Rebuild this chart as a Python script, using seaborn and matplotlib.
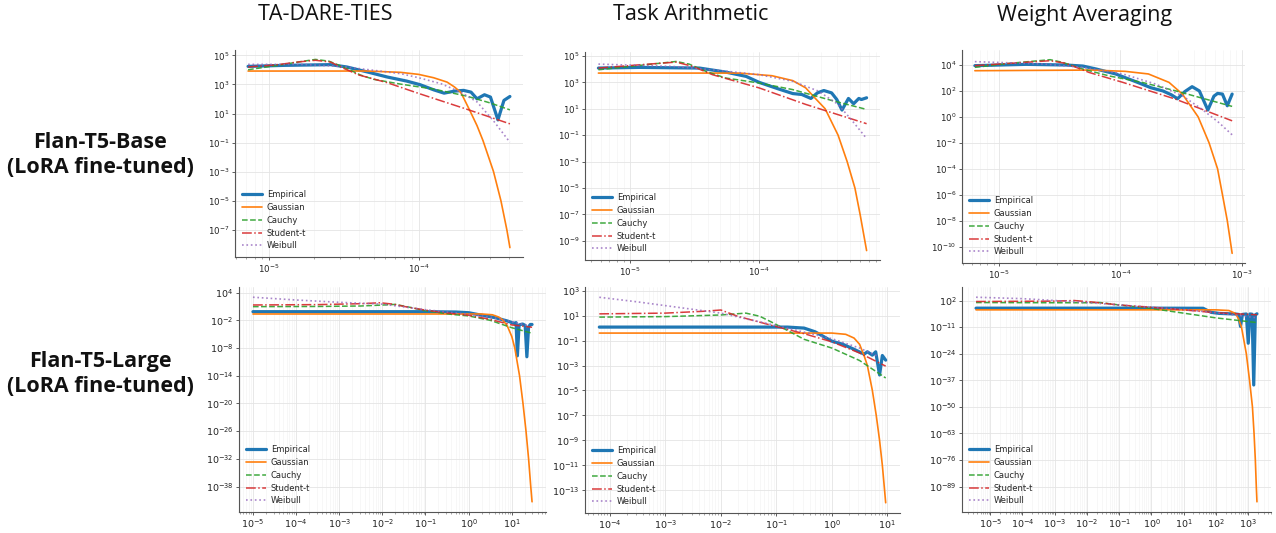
import numpy as np
import matplotlib
matplotlib.use("Agg")
import matplotlib.pyplot as plt
from matplotlib.ticker import FixedLocator, NullLocator, LogLocator
import seaborn as sns

# ---------------- data: (log10 x, log10 density) ----------------
COLUMN_TITLES = ["TA-DARE-TIES", "Task Arithmetic", "Weight Averaging"]
ROW_LABELS = ["Flan-T5-Base\n(LoRA fine-tuned)", "Flan-T5-Large\n(LoRA fine-tuned)"]
DIST_NAMES = ["Empirical", "Gaussian", "Cauchy", "Student-t", "Weibull"]

# Flan-T5-Base / TA-DARE-TIES
B_TADT_EMP = [(-5.14, 4.24), (-4.90, 4.31), (-4.59, 4.36), (-4.48, 4.20), (-4.34, 3.85), (-4.21, 3.51),
              (-4.08, 3.23), (-3.99, 2.98), (-3.90, 2.63), (-3.83, 2.40), (-3.76, 2.54), (-3.70, 2.59),
              (-3.65, 2.47), (-3.61, 2.01), (-3.56, 2.29), (-3.52, 2.13), (-3.47, 0.56), (-3.43, 1.90),
              (-3.39, 2.17)]
B_TADT_GAU = [(-5.14, 3.92), (-4.34, 3.92), (-4.12, 3.83), (-4.00, 3.69), (-3.90, 3.46), (-3.81, 3.16),
              (-3.76, 2.82), (-3.72, 2.47), (-3.70, 2.08), (-3.66, 1.25), (-3.61, 0.17), (-3.57, -0.86),
              (-3.50, -2.98), (-3.45, -5.00), (-3.41, -7.02), (-3.39, -8.22)]
B_TADT_CAU = [(-5.14, 4.01), (-4.95, 4.30), (-4.80, 4.55), (-4.69, 4.72), (-4.60, 4.60), (-4.48, 4.10),
              (-4.39, 3.65), (-4.30, 3.35), (-4.12, 3.02), (-3.90, 2.68), (-3.68, 2.20), (-3.52, 1.72),
              (-3.39, 1.25)]
B_TADT_STU = [(-5.14, 4.20), (-4.95, 4.35), (-4.80, 4.55), (-4.69, 4.66), (-4.59, 4.54), (-4.50, 4.10),
              (-4.40, 3.65), (-4.21, 3.12), (-4.00, 2.38), (-3.68, 1.30), (-3.39, 0.29)]
B_TADT_WEI = [(-5.14, 4.38), (-4.79, 4.38), (-4.52, 4.24), (-4.30, 3.97), (-4.12, 3.74), (-4.00, 3.46),
              (-3.85, 3.05), (-3.72, 2.47), (-3.61, 1.80), (-3.50, 0.50), (-3.39, -0.98)]

# Flan-T5-Base / Task Arithmetic
B_TA_EMP = [(-5.24, 4.08), (-4.92, 4.13), (-4.46, 4.08), (-4.26, 3.78), (-4.10, 3.45), (-4.00, 3.00),
            (-3.85, 2.50), (-3.74, 2.15), (-3.67, 2.08), (-3.60, 1.78), (-3.55, 2.20), (-3.50, 2.38),
            (-3.44, 2.20), (-3.40, 1.70), (-3.36, 0.90), (-3.31, 1.78), (-3.27, 1.38), (-3.23, 1.78),
            (-3.21, 1.70), (-3.17, 1.83)]
B_TA_GAU = [(-5.24, 3.70), (-4.15, 3.70), (-3.90, 3.50), (-3.74, 3.13), (-3.64, 2.58), (-3.57, 1.83),
            (-3.49, 1.00), (-3.39, -1.00), (-3.32, -3.00), (-3.26, -5.00), (-3.22, -7.00), (-3.17, -9.73)]
B_TA_CAU = [(-5.24, 3.95), (-4.92, 4.28), (-4.64, 4.58), (-4.54, 4.38), (-4.41, 3.83), (-4.26, 3.33),
            (-4.00, 2.95), (-3.74, 2.45), (-3.44, 1.63), (-3.17, 0.95)]
B_TA_STU = [(-5.24, 4.08), (-4.92, 4.33), (-4.64, 4.53), (-4.51, 4.20), (-4.36, 3.58), (-4.00, 2.58),
            (-3.64, 1.33), (-3.17, -0.13)]
B_TA_WEI = [(-5.24, 4.38), (-4.66, 4.20), (-4.36, 3.95), (-4.00, 3.58), (-3.74, 3.08), (-3.54, 2.33),
            (-3.39, 1.33), (-3.29, 0.20), (-3.17, -1.25)]

# Flan-T5-Base / Weight Averaging
B_WA_EMP = [(-5.20, 3.95), (-4.78, 4.05), (-4.45, 4.00), (-4.31, 3.92), (-4.20, 3.69), (-4.04, 3.31),
            (-3.87, 2.70), (-3.75, 2.25), (-3.65, 2.00), (-3.58, 1.70), (-3.53, 1.40), (-3.47, 1.95),
            (-3.41, 2.33), (-3.35, 2.00), (-3.28, 0.53), (-3.23, 1.60), (-3.20, 1.81), (-3.16, 1.76),
            (-3.12, 0.86), (-3.08, 1.76)]
B_WA_GAU = [(-5.20, 3.56), (-4.23, 3.61), (-3.96, 3.51), (-3.77, 3.31), (-3.60, 2.66), (-3.49, 1.76),
            (-3.36, 0.00), (-3.27, -2.00), (-3.20, -4.00), (-3.16, -5.98), (-3.12, -7.99), (-3.08, -10.51)]
B_WA_CAU = [(-5.20, 3.82), (-4.91, 4.13), (-4.58, 4.41), (-4.48, 4.21), (-4.31, 3.69), (-4.09, 3.15),
            (-3.82, 2.66), (-3.55, 2.02), (-3.08, 0.81)]
B_WA_STU = [(-5.20, 3.95), (-4.91, 4.13), (-4.58, 4.33), (-4.45, 4.13), (-4.26, 3.43), (-3.98, 2.66),
            (-3.55, 1.38), (-3.08, -0.30)]
B_WA_WEI = [(-5.20, 4.26), (-4.64, 4.08), (-4.31, 3.82), (-3.98, 3.31), (-3.71, 2.53), (-3.49, 1.63),
            (-3.33, 0.60), (-3.19, -0.43), (-3.08, -1.38)]

# Flan-T5-Large / TA-DARE-TIES
L_TADT_EMP = [(-5.0, -0.13), (-3.0, -0.13), (-1.0, -0.13), (-0.3, -0.20), (0.0, -0.35), (0.3, -0.90),
              (0.6, -1.40), (0.9, -2.15), (1.05, -2.65), (1.10, -2.50), (1.13, -9.70), (1.17, -3.00),
              (1.25, -2.80), (1.31, -3.10), (1.35, -9.90), (1.39, -3.40), (1.43, -2.90), (1.47, -2.90)]
L_TADT_GAU = [(-5.0, -0.63), (0.3, -0.63), (0.55, -0.80), (0.7, -1.30), (0.8, -2.00), (0.9, -3.30),
              (1.0, -5.50), (1.07, -8.00), (1.18, -14.0), (1.26, -20.0), (1.33, -26.0), (1.39, -32.0),
              (1.44, -38.0), (1.47, -41.3)]
L_TADT_CAU = [(-5.0, 0.96), (-3.5, 1.00), (-2.5, 1.10), (-1.9, 1.35), (-1.7, 1.45), (-1.32, 0.74),
              (-1.02, 0.09), (-0.4, -0.71), (0.0, -1.05), (0.5, -2.00), (1.0, -3.60), (1.47, -4.80)]
L_TADT_STU = [(-5.0, 1.32), (-3.5, 1.40), (-2.5, 1.60), (-2.05, 1.80), (-1.75, 1.50), (-1.47, 0.96),
              (-1.0, 0.20), (-0.5, -0.40), (0.0, -0.90), (0.5, -1.80), (1.0, -3.00), (1.47, -3.50)]
L_TADT_WEI = [(-5.0, 3.00), (-4.0, 2.40), (-3.0, 1.90), (-2.0, 1.50), (-1.0, 0.30), (0.0, -0.70),
              (0.5, -1.30), (1.0, -2.30), (1.4, -3.20)]

# Flan-T5-Large / Task Arithmetic
L_TA_EMP = [(-4.19, 0.08), (-2.0, 0.08), (-0.8, 0.08), (-0.5, 0.00), (-0.3, -0.30), (-0.1, -0.80),
            (0.0, -1.05), (0.2, -1.30), (0.4, -1.70), (0.58, -2.09), (0.64, -1.90), (0.73, -2.17),
            (0.79, -1.90), (0.86, -3.76), (0.91, -2.20), (0.97, -2.57)]
L_TA_GAU = [(-4.19, -0.40), (0.0, -0.40), (0.25, -0.50), (0.4, -0.80), (0.5, -1.30), (0.58, -2.20),
            (0.64, -3.00), (0.73, -5.00), (0.80, -7.00), (0.86, -9.00), (0.91, -11.0), (0.95, -13.0),
            (0.97, -14.0)]
L_TA_CAU = [(-4.19, 0.88), (-3.0, 0.92), (-2.0, 1.05), (-1.55, 1.20), (-1.3, 0.95), (-1.05, 0.40),
            (-0.5, -0.90), (0.0, -1.60), (0.5, -2.60), (0.97, -4.00)]
L_TA_STU = [(-4.19, 1.14), (-3.0, 1.20), (-2.3, 1.35), (-2.0, 1.45), (-1.7, 0.95), (-1.07, 0.20),
            (-0.5, -0.45), (0.0, -1.10), (0.5, -2.00), (0.97, -3.05)]
L_TA_WEI = [(-4.19, 2.47), (-3.5, 2.10), (-3.0, 1.80), (-2.5, 1.50), (-2.0, 1.20), (-1.5, 0.70),
            (-1.0, 0.20), (0.0, -0.85), (0.5, -1.60), (0.85, -2.30)]

# Flan-T5-Large / Weight Averaging
L_WA_EMP = [(-5.44, -1.75), (0.0, -1.75), (1.6, -1.80), (1.85, -3.80), (2.1, -4.30), (2.6, -4.60),
            (2.7, -4.80), (2.76, -10.7), (2.82, -4.80), (2.94, -4.60), (3.0, -18.9), (3.05, -4.60),
            (3.12, -4.70), (3.17, -39.3), (3.22, -5.00), (3.27, -4.50)]
L_WA_GAU = [(-5.44, -2.57), (2.0, -2.57), (2.4, -2.90), (2.6, -4.30), (2.7, -7.00), (2.79, -11.0),
            (2.94, -24.0), (3.04, -37.0), (3.13, -50.0), (3.18, -63.0), (3.22, -76.0), (3.25, -89.0),
            (3.27, -96.4)]
L_WA_CAU = [(-5.44, 1.00), (-3.0, 0.90), (-2.0, 0.90), (-1.6, 1.00), (-1.0, -0.20), (0.0, -1.90),
            (1.0, -4.20), (2.0, -6.50), (3.27, -8.80)]
L_WA_STU = [(-5.44, 1.50), (-3.0, 1.70), (-2.4, 2.00), (-1.8, 1.20), (-1.0, -0.20), (0.0, -1.30),
            (1.0, -2.60), (2.0, -4.00), (3.27, -5.00)]
L_WA_WEI = [(-5.44, 3.60), (-4.0, 2.90), (-3.0, 2.00), (-2.0, 1.00), (-1.0, -0.20), (0.0, -1.30),
            (1.0, -2.40), (2.0, -4.00), (2.8, -5.50), (3.27, -6.50)]

# tick exponents per panel
XTICKS = [[-5, -4], [-5, -4], [-5, -4, -3],
          [-5, -4, -3, -2, -1, 0, 1], [-4, -3, -2, -1, 0, 1], [-5, -4, -3, -2, -1, 0, 1, 2, 3]]
YTICKS = [[5, 3, 1, -1, -3, -5, -7], [5, 3, 1, -1, -3, -5, -7, -9], [4, 2, 0, -2, -4, -6, -8, -10],
          [4, -2, -8, -14, -20, -26, -32, -38], [3, 1, -1, -3, -5, -7, -9, -11, -13],
          [2, -11, -24, -37, -50, -63, -76, -89]]

PANELS = [
    [B_TADT_EMP, B_TADT_GAU, B_TADT_CAU, B_TADT_STU, B_TADT_WEI],
    [B_TA_EMP, B_TA_GAU, B_TA_CAU, B_TA_STU, B_TA_WEI],
    [B_WA_EMP, B_WA_GAU, B_WA_CAU, B_WA_STU, B_WA_WEI],
    [L_TADT_EMP, L_TADT_GAU, L_TADT_CAU, L_TADT_STU, L_TADT_WEI],
    [L_TA_EMP, L_TA_GAU, L_TA_CAU, L_TA_STU, L_TA_WEI],
    [L_WA_EMP, L_WA_GAU, L_WA_CAU, L_WA_STU, L_WA_WEI],
]

# ---------------- styling ----------------
sns.set_style("ticks")
plt.rcParams['font.family'] = ['DejaVu Sans']

STYLES = {
    "Empirical": dict(color="#1f77b4", linestyle="-", linewidth=2.3, alpha=1.0),
    "Gaussian": dict(color="#ff7f0e", linestyle="-", linewidth=1.2, alpha=1.0),
    "Cauchy": dict(color="#2ca02c", linestyle="--", linewidth=1.1, alpha=0.9),
    "Student-t": dict(color="#d62728", linestyle="-.", linewidth=1.1, alpha=0.9),
    "Weibull": dict(color="#9467bd", linestyle=":", linewidth=1.2, alpha=0.8),
}

W, H = 1276, 533
# axes boxes in pixels: left, right, top, bottom
BOXES = [(235, 523, 50, 257), (585, 880, 52, 260), (962, 1245, 50, 263),
         (239, 546, 287, 512), (585, 900, 287, 513), (962, 1271, 287, 512)]

fig = plt.figure(figsize=(W / 100, H / 100), dpi=100)

for i, (curves, box) in enumerate(zip(PANELS, BOXES)):
    l, r, t, b = box
    ax = fig.add_axes([l / W, (H - b) / H, (r - l) / W, (b - t) / H])
    ax.set_xscale("log")
    ax.set_yscale("log")
    for name, pts in zip(DIST_NAMES, curves):
        arr = np.array(pts)
        sns.lineplot(x=10.0 ** arr[:, 0], y=10.0 ** arr[:, 1], ax=ax, label=name,
                     sort=False, estimator=None, **STYLES[name])
    ax.yaxis.set_major_locator(FixedLocator([10.0 ** e for e in YTICKS[i]]))
    ax.yaxis.set_minor_locator(NullLocator())
    ax.xaxis.set_major_locator(FixedLocator([10.0 ** e for e in XTICKS[i]]))
    ax.xaxis.set_minor_locator(LogLocator(base=10, subs=np.arange(2, 10)))
    fs = 6.2 if i < 3 else 6.8
    ax.tick_params(axis="both", which="major", labelsize=fs, length=2.5, width=0.6, pad=1.5,
                   colors="#444444", labelcolor="#222222")
    ax.tick_params(axis="both", which="minor", length=1.5, width=0.4, colors="#666666")
    ax.grid(True, which="major", color="#e4e4e4", linewidth=0.6)
    ax.grid(True, which="minor", axis="x", color="#f1f1f1", linewidth=0.4)
    ax.set_axisbelow(True)
    sns.despine(ax=ax)
    for s in ("left", "bottom"):
        ax.spines[s].set_color("#555555")
        ax.spines[s].set_linewidth(0.8)
    ax.set_xlabel("")
    ax.set_ylabel("")
    ax.legend(loc="lower left", frameon=False, fontsize=6.0, handlelength=2.4,
              handletextpad=0.6, labelspacing=0.45, borderaxespad=0.4)

# column titles
for x, title in zip([325, 691, 1085], COLUMN_TITLES):
    fig.text(x / W, 1 - 15 / H, title, ha="center", va="center", fontsize=15.5,
             family=["Open Sans", "DejaVu Sans"], color="#111111")

# row labels
for y, lab in zip([155, 374], ROW_LABELS):
    fig.text(100 / W, 1 - y / H, lab, ha="center", va="center", fontsize=15.5,
             fontweight="bold", family=["Open Sans", "DejaVu Sans"], linespacing=1.25,
             color="#111111")

fig.savefig("out.png", dpi=100)
